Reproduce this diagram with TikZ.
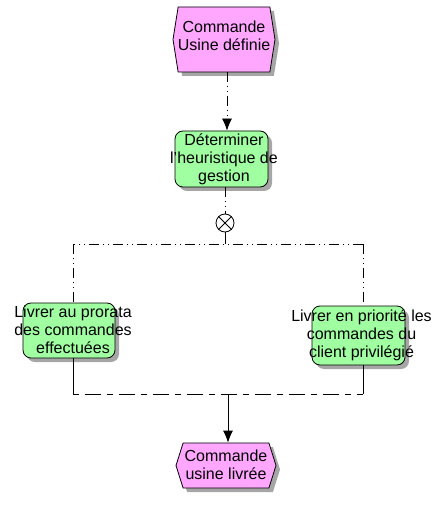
\documentclass[tikz,border=0pt]{standalone}
\usepackage{fontspec}
\setmainfont{Liberation Sans}
\usetikzlibrary{positioning, calc, arrows.meta, shapes.symbols, shadows}

\definecolor{evpink}{RGB}{255,166,255}
\definecolor{fngreen}{RGB}{160,255,160}

\tikzset{
  event/.style={signal, signal to=west and east, draw, fill=evpink, line width=0.8pt,
    inner sep=0pt, drop shadow={shadow xshift=4pt, shadow yshift=-4pt, fill=black!35, opacity=1}},
  fnbox/.style={draw, fill=fngreen, line width=0.8pt, rounded corners=8pt, inner sep=0pt,
    drop shadow={shadow xshift=4pt, shadow yshift=-4pt, fill=black!35, opacity=1}},
  lbl/.style={align=center, font=\fontsize{16}{18}\selectfont, inner sep=0pt},
  flow/.style={draw, line width=0.8pt},
  dashdotline/.style={flow, dash pattern=on 10pt off 4pt on 1pt off 4pt on 1pt off 4pt},
  joinline/.style={flow, dash pattern=on 6pt off 6pt on 16pt off 6pt},
  arr/.style={-{Latex[length=12pt,width=10pt]}},
  xorop/.style={circle, draw, line width=0.8pt, fill=white, minimum size=18pt, inner sep=0pt}
}

\begin{document}
\begin{tikzpicture}[x=1pt, y=-1pt]
        \useasboundingbox (0,0) rectangle (435,510);

        % Events
        \node[event, minimum width=102pt, minimum height=65pt, signal pointer angle=162] (cmdDef) at (224,39.5) {};
        \node[lbl] (cmdDefTxt) at (224,36) {Commande\\Usine définie};
        \node[event, minimum width=100pt, minimum height=45pt, signal pointer angle=145] (cmdLiv) at (226,465.5) {};
        \node[lbl] (cmdLivTxt) at (226,465) {Commande\\usine livrée};

        % Functions
        \node[fnbox, minimum width=93pt, minimum height=56pt] (heur) at (221.5,159) {};
        \node[lbl] (heurTxt) at (224,159) {Déterminer\\l'heuristique de\\gestion};
        \node[fnbox, minimum width=92pt, minimum height=55pt] (prorata) at (69,330.5) {};
        \node[lbl] (prorataTxt) at (73,330) {Livrer au prorata\\des commandes\\effectuées};
        \node[fnbox, minimum width=93pt, minimum height=59pt] (prio) at (358.5,335.5) {};
        \node[lbl] (prioTxt) at (361.5,335.5) {Livrer en priorité les\\commandes du\\client privilégié};

        % XOR operator
        \node[xorop] (xor) at (225,223) {};
        \draw[line width=0.8pt] (xor.north west) -- (xor.south east) (xor.north east) -- (xor.south west);

        % Split / join points
        \coordinate (splitL) at (73,244);
        \coordinate (splitR) at (363,244);
        \coordinate (joinL) at (73,394);
        \coordinate (joinR) at (363,394);
        \coordinate (joinM) at (228,394);

        % Connectors
        \draw[dashdotline, arr] (cmdDef.south -| 227,0) -- (heur.north -| 227,0);
        \draw[dashdotline] (heur.south -| xor) -- (xor.north);
        \draw[flow] (xor.south) -- (xor.south |- splitL);
        \draw[dashdotline] (splitR) -- (splitL);
        \draw[dashdotline] (splitL) -- (splitL |- prorata.north);
        \draw[dashdotline] (splitR) -- (splitR |- prio.north);
        \draw[flow] (prorata.south -| joinL) -- (joinL);
        \draw[flow] (prio.south -| joinR) -- (joinR);
        \draw[joinline] (joinL) -- (joinR);
        \draw[flow, arr] (joinM) -- (cmdLiv.north -| joinM);

\end{tikzpicture}
\end{document}
